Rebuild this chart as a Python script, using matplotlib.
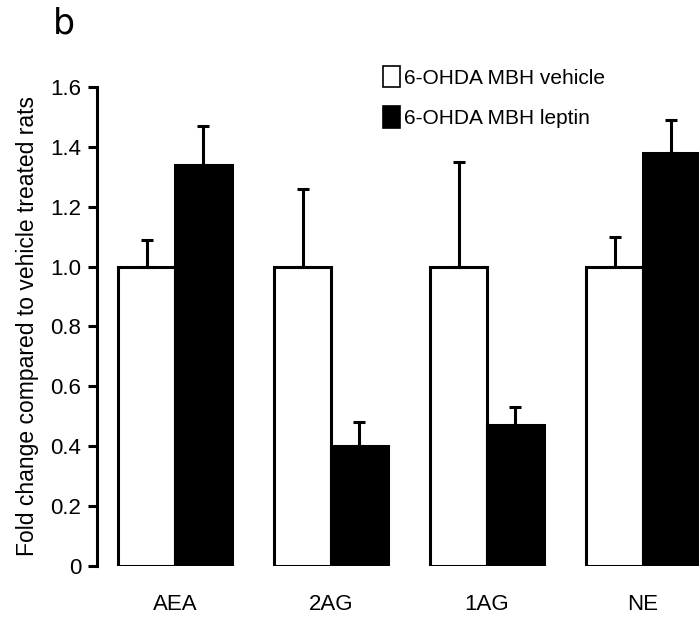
import numpy as np
import matplotlib
matplotlib.use("Agg")
import matplotlib.pyplot as plt
from matplotlib.patches import Patch

plt.rcParams['font.family'] = ['Liberation Sans Narrow', 'Liberation Sans', 'DejaVu Sans']

# data
groups = ['AEA', '2AG', '1AG', 'NE']
vehicle = [1.0, 1.0, 1.0, 1.0]
vehicle_err = [0.09, 0.26, 0.35, 0.10]
leptin = [1.34, 0.40, 0.47, 1.38]
leptin_err = [0.13, 0.08, 0.06, 0.11]
yticks = [0, 0.2, 0.4, 0.6, 0.8, 1.0, 1.2, 1.4, 1.6]
ytick_labels = ['0', '0.2', '0.4', '0.6', '0.8', '1.0', '1.2', '1.4', '1.6']

fig = plt.figure(figsize=(6.99, 6.17), dpi=100)
ax = fig.add_axes([0.1388, 0.0827, 0.8612, 0.7763])

x = np.arange(len(groups))
w = 0.363
lw = 2.2
err_kw = dict(ecolor='black', elinewidth=lw, capsize=4.3, capthick=lw)

ax.bar(x - w / 2, vehicle, w, color='white', edgecolor='black', linewidth=lw,
       yerr=[np.zeros(len(groups)), vehicle_err], error_kw=err_kw,
       label='6-OHDA MBH vehicle')
ax.bar(x + w / 2, leptin, w, color='black', edgecolor='black', linewidth=lw,
       yerr=[np.zeros(len(groups)), leptin_err], error_kw=err_kw,
       label='6-OHDA MBH leptin')

ax.set_xlim(-0.5, 3.36)
ax.set_ylim(0, 1.6)
ax.set_yticks(yticks)
ax.set_yticklabels(ytick_labels)
ax.set_xticks(x)
ax.set_xticklabels(groups)

for s in ['top', 'right', 'bottom']:
    ax.spines[s].set_visible(False)
ax.spines['left'].set_linewidth(lw)
ax.tick_params(axis='y', direction='out', length=6.5, width=lw, labelsize=16, pad=5)
ax.tick_params(axis='x', length=0, labelsize=16, pad=20)

ax.set_ylabel('Fold change compared to vehicle treated rats', fontsize=16.5, labelpad=8)

handles = [Patch(facecolor='white', edgecolor='black', linewidth=1.2),
           Patch(facecolor='black', edgecolor='black', linewidth=1.2)]
ax.legend(handles, ['6-OHDA MBH vehicle', '6-OHDA MBH leptin'],
          loc='upper left', bbox_to_anchor=(0.548, 0.893), bbox_transform=fig.transFigure,
          frameon=False, fontsize=15, handlelength=0.8, handleheight=1.2,
          handletextpad=0.2, labelspacing=0.9, borderpad=0, borderaxespad=0)

fig.text(0.076, 0.945, 'b', fontsize=25, family='DejaVu Sans', ha='left', va='baseline')

fig.savefig('out.png', dpi=100)
